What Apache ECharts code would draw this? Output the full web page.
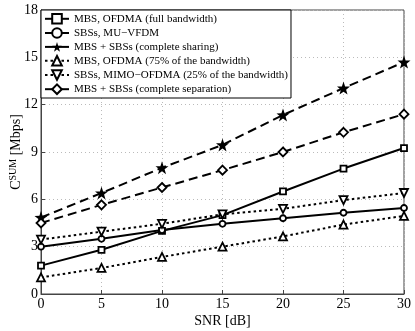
<!DOCTYPE html>
<html>
<head>
<meta charset="utf-8">
<script src="https://cdn.jsdelivr.net/npm/echarts@6/dist/echarts.min.js"></script>
<style>
  html, body { margin: 0; padding: 0; background: #fff; }
  #chart { width: 415px; height: 331px; }
</style>
</head>
<body>
<div id="chart"></div>
<script>
const snr = [0, 5, 10, 15, 20, 25, 30];

const mbsFull = [1.8, 2.8, 4.0, 5.0, 6.5, 7.95, 9.25];
const sbsVfdm = [3.0, 3.5, 4.05, 4.45, 4.8, 5.15, 5.45];
const sharing = [4.85, 6.4, 8.0, 9.45, 11.35, 13.05, 14.7];
const mbs75 = [1.05, 1.65, 2.35, 3.0, 3.65, 4.4, 4.95];
const sbs25 = [3.45, 3.95, 4.45, 5.05, 5.4, 5.95, 6.4];
const separation = [4.5, 5.65, 6.75, 7.85, 9.0, 10.25, 11.4];

const names = [
    'MBS, OFDMA (full bandwidth)',
    'SBSs, MU\u2212VFDM',
    'MBS + SBSs (complete sharing)',
    'MBS, OFDMA (75% of the bandwidth)',
    'SBSs, MIMO\u2212OFDMA (25% of the bandwidth)',
    'MBS + SBSs (complete separation)'
];

const font = '"Liberation Serif", "DejaVu Serif", serif';
const star = 'path://M0,-10 L2.35,-3.24 L9.51,-3.09 L3.8,1.24 L5.88,8.09 L0,4 L-5.88,8.09 L-3.8,1.24 L-9.51,-3.09 L-2.35,-3.24 Z';

const mkSeries = (name, data, lineType, symbol, opts) => Object.assign({
    name: name,
    type: 'line',
    data: snr.map((x, i) => [x, data[i]]),
    symbol: symbol,
    symbolSize: 6,
    showAllSymbol: true,
    lineStyle: { color: '#000', width: 2, type: lineType },
    itemStyle: { color: '#fff', borderColor: '#000', borderWidth: 1.8 },
    emphasis: { disabled: true },
    animation: false
}, opts || {});

const chart = echarts.init(document.getElementById('chart'), null, { renderer: 'canvas' });
chart.setOption({
    backgroundColor: '#fff',
    grid: {
        left: 41, right: 11, top: 10, bottom: 37,
        outerBoundsMode: 'none',
        containLabel: false,
        show: true, borderColor: '#444', borderWidth: 1
    },
    legend: {
        orient: 'vertical',
        left: 41, top: 10,
        backgroundColor: '#fff',
        borderColor: '#000',
        borderWidth: 1,
        borderRadius: 0,
        padding: [3, 3, 3, 3],
        itemGap: 2.6,
        itemWidth: 24,
        itemHeight: 12,
        textStyle: { fontFamily: font, fontSize: 11, color: '#000' },
        data: [
            { name: names[0] },
            { name: names[1] },
            { name: names[2], lineStyle: { type: 'solid' } },
            { name: names[3] },
            { name: names[4] },
            { name: names[5], lineStyle: { type: 'solid' } }
        ]
    },
    xAxis: {
        type: 'value',
        min: 0, max: 30, interval: 5,
        name: 'SNR [dB]',
        nameLocation: 'middle',
        nameGap: 20,
        nameMoveOverlap: false,
        nameTextStyle: { fontFamily: font, fontSize: 14, color: '#000' },
        axisLine: { lineStyle: { color: '#444' } },
        axisTick: { inside: true, length: 4, lineStyle: { color: '#444' } },
        axisLabel: { fontFamily: font, fontSize: 14, color: '#000', margin: 3 },
        splitLine: { show: true, lineStyle: { type: [1, 3], color: '#bbb' } }
    },
    yAxis: {
        type: 'value',
        min: 0, max: 18, interval: 3,
        name: '{n|C}{s|SUM}{n| [Mbps]}',
        nameLocation: 'middle',
        nameGap: 16,
        nameMoveOverlap: false,
        nameTextStyle: {
            rich: {
                n: { fontFamily: font, fontSize: 14, color: '#000' },
                s: { fontFamily: font, fontSize: 10, color: '#000', verticalAlign: 'top', padding: [0, 0, 7, 0] }
            }
        },
        axisLine: { lineStyle: { color: '#444' } },
        axisTick: { inside: true, length: 4, lineStyle: { color: '#444' } },
        axisLabel: { fontFamily: font, fontSize: 14, color: '#000', margin: 3 },
        splitLine: { show: true, lineStyle: { type: [1, 3], color: '#bbb' } }
    },
    series: [
        mkSeries(names[0], mbsFull, 'solid', 'rect'),
        mkSeries(names[1], sbsVfdm, 'solid', 'circle'),
        mkSeries(names[2], sharing, [9, 5], star, { symbolSize: 13, itemStyle: { color: '#000', borderColor: '#000', borderWidth: 0 } }),
        mkSeries(names[3], mbs75, [2.5, 3], 'triangle', { symbolSize: 8 }),
        mkSeries(names[4], sbs25, [2.5, 3], 'triangle', { symbolSize: 8, symbolRotate: 180 }),
        mkSeries(names[5], separation, [9, 5], 'diamond', { symbolSize: 9 })
    ]
});
</script>
</body>
</html>
